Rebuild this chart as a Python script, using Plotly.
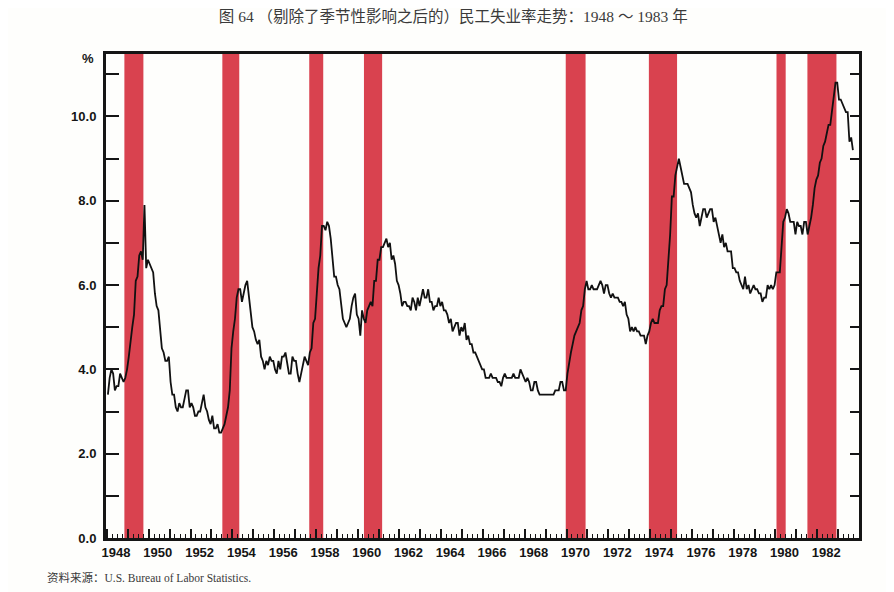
import plotly.graph_objects as go

# 民工失业率（剔除季节性影响），月度，1948.01 ~ 1983.09
first_year = 1948
unemployment = [
    3.4, 3.8, 4.0, 3.9, 3.5, 3.6, 3.6, 3.9, 3.8, 3.7, 3.8, 4.0,   # 1948
    4.3, 4.7, 5.0, 5.3, 6.1, 6.2, 6.7, 6.8, 6.6, 7.9, 6.4, 6.6,   # 1949
    6.5, 6.4, 6.3, 5.8, 5.5, 5.4, 5.0, 4.5, 4.4, 4.2, 4.2, 4.3,   # 1950
    3.7, 3.4, 3.4, 3.1, 3.0, 3.2, 3.1, 3.1, 3.3, 3.5, 3.5, 3.1,   # 1951
    3.2, 3.1, 2.9, 2.9, 3.0, 3.0, 3.2, 3.4, 3.1, 3.0, 2.8, 2.7,   # 1952
    2.9, 2.6, 2.6, 2.7, 2.5, 2.5, 2.6, 2.7, 2.9, 3.1, 3.5, 4.5,   # 1953
    4.9, 5.2, 5.7, 5.9, 5.9, 5.6, 5.8, 6.0, 6.1, 5.7, 5.3, 5.0,   # 1954
    4.9, 4.7, 4.6, 4.7, 4.3, 4.2, 4.0, 4.2, 4.1, 4.3, 4.2, 4.2,   # 1955
    4.0, 3.9, 4.2, 4.0, 4.3, 4.3, 4.4, 4.1, 3.9, 3.9, 4.3, 4.2,   # 1956
    4.2, 3.9, 3.7, 3.9, 4.1, 4.3, 4.2, 4.1, 4.4, 4.5, 5.1, 5.2,   # 1957
    5.8, 6.4, 6.7, 7.4, 7.4, 7.3, 7.5, 7.4, 7.1, 6.7, 6.2, 6.2,   # 1958
    6.0, 5.9, 5.6, 5.2, 5.1, 5.0, 5.1, 5.2, 5.5, 5.7, 5.8, 5.3,   # 1959
    5.2, 4.8, 5.4, 5.2, 5.1, 5.4, 5.5, 5.6, 5.5, 6.1, 6.1, 6.6,   # 1960
    6.6, 6.9, 6.9, 7.0, 7.1, 6.9, 7.0, 6.6, 6.7, 6.5, 6.1, 6.0,   # 1961
    5.8, 5.5, 5.6, 5.6, 5.5, 5.5, 5.4, 5.7, 5.6, 5.4, 5.7, 5.5,   # 1962
    5.7, 5.9, 5.7, 5.7, 5.9, 5.6, 5.6, 5.4, 5.5, 5.5, 5.7, 5.5,   # 1963
    5.6, 5.4, 5.4, 5.3, 5.1, 5.2, 4.9, 5.0, 5.1, 5.1, 4.8, 5.0,   # 1964
    4.9, 5.1, 4.7, 4.8, 4.6, 4.6, 4.4, 4.4, 4.3, 4.2, 4.1, 4.0,   # 1965
    4.0, 3.8, 3.8, 3.8, 3.9, 3.8, 3.8, 3.8, 3.7, 3.7, 3.6, 3.8,   # 1966
    3.9, 3.8, 3.8, 3.8, 3.8, 3.9, 3.8, 3.8, 3.8, 4.0, 3.9, 3.8,   # 1967
    3.7, 3.8, 3.7, 3.5, 3.5, 3.7, 3.7, 3.5, 3.4, 3.4, 3.4, 3.4,   # 1968
    3.4, 3.4, 3.4, 3.4, 3.4, 3.5, 3.5, 3.5, 3.7, 3.7, 3.5, 3.5,   # 1969
    3.9, 4.2, 4.4, 4.6, 4.8, 4.9, 5.0, 5.1, 5.4, 5.5, 5.9, 6.1,   # 1970
    5.9, 5.9, 6.0, 5.9, 5.9, 5.9, 6.0, 6.1, 6.0, 5.8, 6.0, 6.0,   # 1971
    5.8, 5.7, 5.8, 5.7, 5.7, 5.7, 5.6, 5.6, 5.5, 5.6, 5.3, 5.2,   # 1972
    4.9, 5.0, 4.9, 5.0, 4.9, 4.9, 4.8, 4.8, 4.8, 4.6, 4.8, 4.9,   # 1973
    5.1, 5.2, 5.1, 5.1, 5.1, 5.4, 5.5, 5.5, 5.9, 6.0, 6.6, 7.2,   # 1974
    8.1, 8.1, 8.6, 8.8, 9.0, 8.8, 8.6, 8.4, 8.4, 8.4, 8.3, 8.2,   # 1975
    7.9, 7.7, 7.6, 7.7, 7.4, 7.6, 7.8, 7.8, 7.6, 7.7, 7.8, 7.8,   # 1976
    7.5, 7.6, 7.4, 7.2, 7.0, 7.2, 6.9, 7.0, 6.8, 6.8, 6.8, 6.4,   # 1977
    6.4, 6.3, 6.3, 6.1, 6.0, 5.9, 6.2, 5.9, 6.0, 5.8, 5.9, 6.0,   # 1978
    5.9, 5.9, 5.8, 5.8, 5.6, 5.7, 5.7, 6.0, 5.9, 6.0, 5.9, 6.0,   # 1979
    6.3, 6.3, 6.3, 6.9, 7.5, 7.6, 7.8, 7.7, 7.5, 7.5, 7.5, 7.2,   # 1980
    7.5, 7.4, 7.4, 7.2, 7.5, 7.5, 7.2, 7.4, 7.6, 7.9, 8.3, 8.5,   # 1981
    8.6, 8.9, 9.0, 9.3, 9.4, 9.6, 9.8, 9.8, 10.1, 10.4, 10.8, 10.8,  # 1982
    10.4, 10.4, 10.3, 10.2, 10.1, 10.1, 9.4, 9.5, 9.2,            # 1983
]

# 经济衰退期（红色竖条），以年份小数表示
recession_start = [1948.83, 1953.52, 1957.68, 1960.30, 1969.96, 1973.94, 1980.05, 1981.53]
recession_end = [1949.74, 1954.33, 1958.35, 1961.17, 1970.91, 1975.29, 1980.49, 1982.92]

years = list(range(1948, 1985))
year_labels = [str(y) if (y % 2 == 0 and y <= 1982) else "" for y in years]
y_ticks = list(range(0, 12))
y_labels = ["%.1f" % v if v % 2 == 0 else "" for v in y_ticks]

months_x = [first_year + (i + 0.5) / 12 for i in range(len(unemployment))]

red = "#d9424f"
ink = "#151515"
tick_font = dict(family="Liberation Sans, Arial, sans-serif", size=13, color=ink, weight="bold")

fig = go.Figure()
fig.add_trace(go.Scatter(x=months_x, y=unemployment, mode="lines",
                         line=dict(color="#111111", width=1.8),
                         showlegend=False, hoverinfo="x+y"))
# 右侧刻度用的空轨迹
fig.add_trace(go.Scatter(x=[1950], y=[0], mode="markers", marker=dict(opacity=0),
                         yaxis="y2", showlegend=False, hoverinfo="skip"))

for s, e in zip(recession_start, recession_end):
    fig.add_shape(type="rect", xref="x", yref="paper", x0=s, x1=e, y0=0, y1=1,
                  fillcolor=red, line=dict(width=0), layer="below")

fig.update_layout(
    width=894, height=592,
    margin=dict(l=98, r=43, t=46, b=62),
    paper_bgcolor="#fefefc", plot_bgcolor="#fefefc",
    title=dict(text="图 64 （剔除了季节性影响之后的）民工失业率走势：1948 ～ 1983 年",
               x=0.498, xanchor="center", y=1 - 9 / 592, yanchor="middle", yref="container",
               font=dict(family="Liberation Serif, Noto Sans CJK SC, serif", size=15.5, color="#3a3a3a")),
    xaxis=dict(range=[1947.95, 1984.0], tickvals=years, ticktext=year_labels,
               ticks="inside", ticklen=9, tickwidth=1.5, tickcolor=ink,
               minor=dict(ticks="inside", ticklen=4, tickwidth=1.2, tickcolor=ink, dtick=0.25, tick0=1948),
               showline=True, linewidth=3, linecolor=ink, mirror=True,
               showgrid=False, zeroline=False, tickfont=tick_font, ticklabelshift=9,
               fixedrange=True),
    yaxis=dict(range=[0, 11.48], tickvals=y_ticks, ticktext=y_labels,
               ticks="inside", ticklen=13, tickwidth=1.8, tickcolor=ink,
               showline=True, linewidth=3, linecolor=ink, mirror=True,
               showgrid=False, zeroline=False, tickfont=tick_font, ticklabelstandoff=4,
               fixedrange=True),
    yaxis2=dict(overlaying="y", side="right", matches="y", tickvals=y_ticks[1:],
                ticks="inside", ticklen=9, tickwidth=1.5, tickcolor=ink,
                showticklabels=False, showgrid=False, zeroline=False, showline=False),
    annotations=[
        dict(text="%", xref="paper", yref="y", x=-0.024, y=11.37, showarrow=False,
             xanchor="center", yanchor="middle",
             font=dict(family="Liberation Sans, Arial, sans-serif", size=13, color=ink, weight="bold")),
        dict(text="资料来源：U.S. Bureau of Labor Statistics.", xref="paper", yref="paper",
             x=-0.081, y=-0.0826, xanchor="left", yanchor="middle", showarrow=False,
             font=dict(family="Liberation Serif, Noto Sans CJK SC, serif", size=11.5, color="#3a3a3a")),
    ],
)

fig.write_html("out.html")
